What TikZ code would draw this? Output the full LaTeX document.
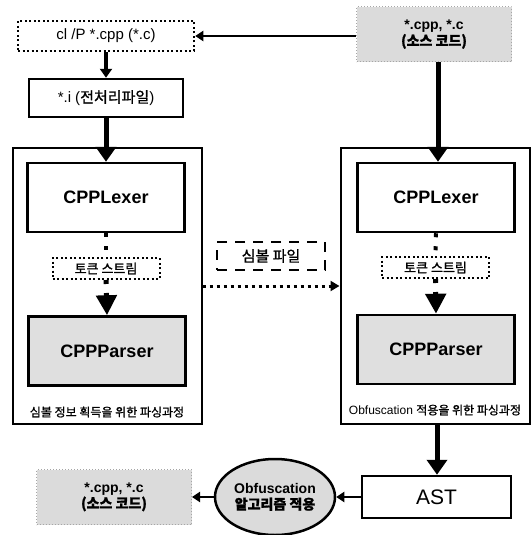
\documentclass[tikz,border=0pt]{standalone}
\usepackage{fontspec}
\setmainfont{Liberation Sans}
\newfontfamily\kr[FakeBold=1.2]{Noto Sans CJK KR}
\usetikzlibrary{positioning, shapes.geometric, arrows.meta, calc}

\begin{document}
\begin{tikzpicture}[
    x=1pt, y=-1pt,
    arrow/.style={
        -{Triangle[length=8pt,width=10pt]},
        line width=2.5pt
    },
    bigarrow/.style={
        -{Triangle[length=15pt,width=20pt]},
        line width=5pt
    },
    dotarrow/.style={
        -{Triangle[length=9pt,width=10pt]},
        line width=3pt,
        dash pattern=on 3pt off 4pt
    },
    box/.style={
        rectangle,
        draw,
        line width=2.5pt,
        inner sep=0pt,
        align=center
    },
    frame/.style={
        rectangle,
        draw,
        line width=2pt,
        minimum width=189pt,
        minimum height=276pt
    },
    lexer/.style={
        box,
        fill=white,
        minimum width=157pt,
        minimum height=69pt,
        font=\fontsize{18}{20}\selectfont\bfseries
    },
    parser/.style={
        lexer,
        fill=gray!25
    },
    token/.style={
        box,
        fill=white,
        line width=2pt,
        dash pattern=on 2pt off 2.5pt,
        minimum width=107pt,
        minimum height=21pt,
        font=\fontsize{13}{14}\selectfont\kr
    },
    source/.style={
        box,
        fill=gray!28,
        draw=gray!70,
        line width=1pt,
        dotted,
        minimum width=155pt,
        minimum height=55pt,
        font=\fontsize{14}{16}\selectfont\bfseries
    },
    caption/.style={
        font=\fontsize{12}{14}\selectfont
    }
]
    \useasboundingbox (0,0) rectangle (532,535);

    % Preprocessing
    \node[source] (src) at (434,34.5) {*.cpp, *.c\\{\kr (소스 코드)}};
    \node[box, dash pattern=on 2pt off 2.5pt, minimum width=176pt, minimum height=30pt,
        font=\fontsize{15}{17}\selectfont] (cl) at (106,36) {cl /P *.cpp (*.c)};
    \node[box, minimum width=154pt, minimum height=38pt,
        font=\fontsize{15}{17}\selectfont] (ifile) at (106,98) {*.i ({\kr 전처리파일})};

    \draw[arrow] (src.west |- cl.east) -- (cl.east);
    \draw[-{Triangle[length=9pt,width=12pt]}, line width=3.5pt] (cl.south) -- (ifile.north);

    % Symbol parsing
    \node[frame] (lframe) at (107,286) {};
    \node[lexer] (llex) at (106,197.5) {CPPLexer};
    \node[token] (ltok) at (106,268.5) {토큰 스트림};
    \node[parser] (lpar) at (107,351) {CPPParser};
    \node[caption] (lcap) at (107,412) {\kr 심볼 정보 획득을 위한 파싱과정};

    % Obfuscation parsing
    \node[frame] (rframe) at (435,286) {};
    \node[lexer] (rlex) at (436,197.5) {CPPLexer};
    \node[token] (rtok) at (435.5,267.5) {토큰 스트림};
    \node[parser] (rpar) at (436,349.5) {CPPParser};
    \node[caption] (rcap) at (435,410) {Obfuscation {\kr 적용을 위한 파싱과정}};

    % Symbol file
    \node[box, dash pattern=on 10pt off 8pt, minimum width=108pt, minimum height=28pt,
        font=\fontsize{15}{17}\selectfont\kr] (sym) at (271,256) {심볼 파일};

    % Connections
    \draw[bigarrow] (ifile.south) -- (llex.north);
    \draw[bigarrow] ($(src.south)+(4,0)$) -- ($(src.south |- rlex.north)+(4,0)$);
    \draw[line width=4pt, dash pattern=on 4pt off 9pt] (llex.south) -- (ltok.north);
    \draw[line width=4pt, dash pattern=on 4pt off 9pt] (rlex.south) -- (rtok.north);
    \draw[bigarrow, -{Triangle[length=20pt,width=20pt]}, dash pattern=on 4pt off 9pt] (ltok.south) -- (lpar.north);
    \draw[bigarrow, -{Triangle[length=20pt,width=20pt]}, dash pattern=on 4pt off 9pt] (rtok.south) -- (rpar.north);
    \draw[dotarrow] (lframe.east) -- (rframe.west);

    % Output
    \node[box, minimum width=149pt, minimum height=42pt,
        font=\fontsize{21}{23}\selectfont] (ast) at (436.5,497) {AST};
    \node[ellipse, draw, line width=2.5pt, fill=gray!28, inner sep=0pt,
        minimum width=120pt, minimum height=76pt, align=center,
        font=\fontsize{14}{16}\selectfont\bfseries] (algo) at (275,497) {Obfuscation\\{\kr 알고리즘 적용}};
    \node[source] (out) at (114,497) {*.cpp, *.c\\{\kr (소스 코드)}};

    \draw[bigarrow] ($(rframe.south)+(2,0)$) -- ($(rframe.south |- ast.north)+(2,0)$);
    \draw[arrow] (ast.west) -- (algo.east);
    \draw[arrow] (algo.west) -- (out.east);

\end{tikzpicture}
\end{document}
